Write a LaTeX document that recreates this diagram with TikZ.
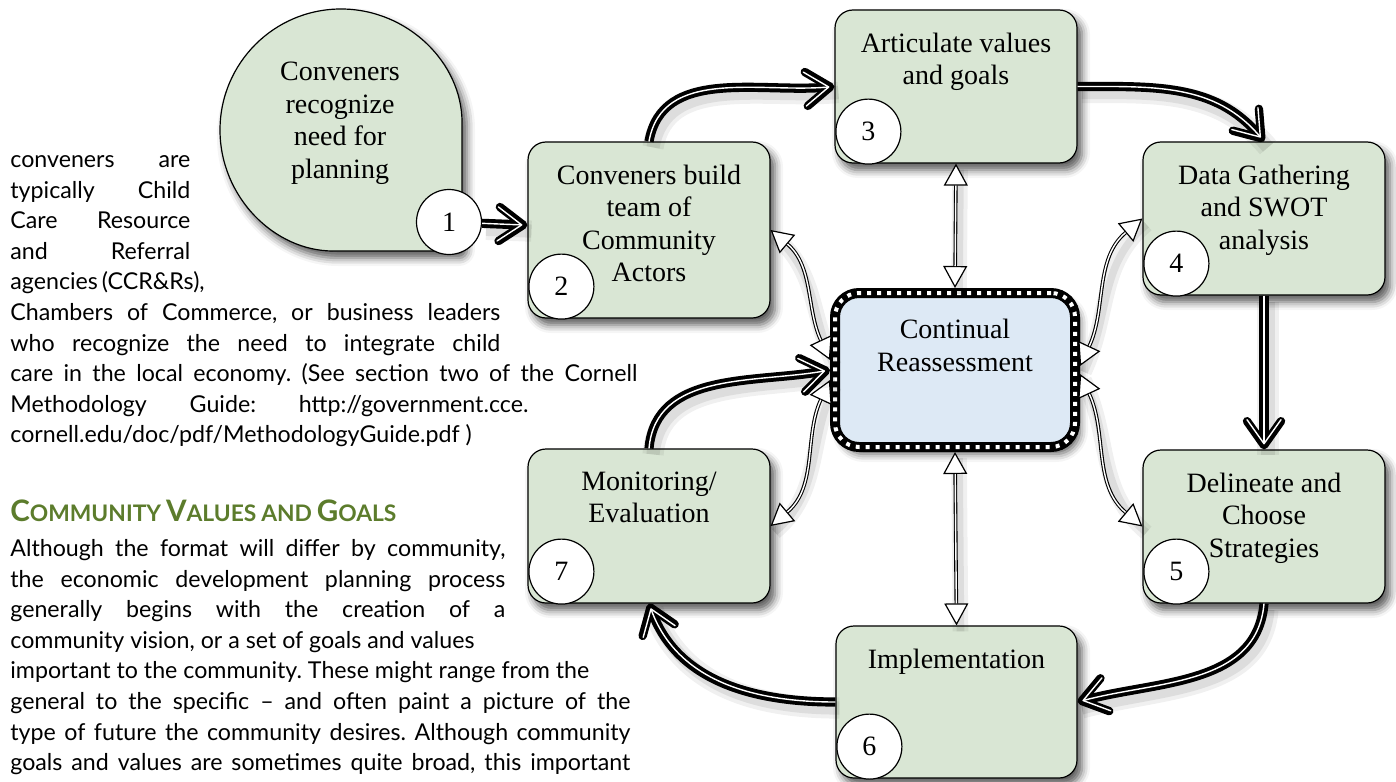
\documentclass[tikz,border=0pt]{standalone}
\usepackage{fontspec}
\setmainfont{Liberation Serif}
\newfontfamily\bodyfont{Lato}
\usetikzlibrary{arrows.meta,calc,shadows.blur}

\definecolor{boxgreen}{RGB}{217,230,212}
\definecolor{boxblue}{RGB}{221,233,245}
\definecolor{headgreen}{RGB}{92,124,44}

\newcommand{\hsc}[2]{{\fontsize{14.8}{15}\selectfont #1}{\fontsize{11.4}{12}\selectfont #2}}

\tikzset{
  softshadow/.style={blur shadow={shadow xshift=2.5pt, shadow yshift=-3.5pt, shadow blur radius=4pt, shadow opacity=65}},
  stepbox/.style={draw=black, line width=0.6pt, fill=boxgreen, rounded corners=9pt,
    minimum width=121pt, minimum height=76.5pt, inner sep=0pt, softshadow},
  centrebox/.style={draw=black, line width=5pt, fill=boxblue, rounded corners=12pt,
    minimum width=120pt, minimum height=77pt, inner sep=0pt, outer sep=2.5pt, softshadow,
    postaction={draw=white, fill=none, line width=2pt, dash pattern=on 2pt off 3pt}},
  numcircle/.style={circle, draw=black, line width=0.6pt, fill=white, minimum size=32.5pt,
    inner sep=0pt, font=\fontsize{14}{16}\selectfont},
  boxtext/.style={anchor=north, align=center, inner sep=0pt, font=\fontsize{14}{16.2}\selectfont},
  lineshadow/.style={preaction={draw=black, opacity=0.06, line width=#1+6pt, -,
      transform canvas={xshift=2pt,yshift=-3pt}},
    preaction={draw=black, opacity=0.08, line width=#1+2pt, -,
      transform canvas={xshift=2pt,yshift=-3pt}}},
  flow/.style={lineshadow=4.6pt, draw=black, line width=4.6pt,
    -{Straight Barb[length=12pt,width=17pt,line width=4.2pt,round]},
    postaction={draw=white, line width=0.7pt, shorten >=2.5pt,
      -{Straight Barb[length=12pt,width=17pt,line width=0.7pt,round]}}},
  link/.style={lineshadow=1.8pt, draw=black, line width=1.8pt,
    {Triangle[length=11pt,width=12pt,line width=0.6pt,fill=white]}-{Triangle[length=11pt,width=12pt,line width=0.6pt,fill=white]},
    postaction={draw=white, line width=0.7pt, -, shorten >=11pt, shorten <=11pt}},
  bodytext/.style={anchor=north west, align=left, inner sep=0pt,
    font=\bodyfont\fontsize{11.6}{15.3}\selectfont\frenchspacing},
}

\begin{document}
\begin{tikzpicture}[x=0.5pt,y=-0.5pt]
\useasboundingbox (0,0) rectangle (1396,781);

% left text
\node[bodytext] (p1) at (10,146) {\rule{0pt}{10.5pt}\makebox[90pt][s]{conveners are}\\
\makebox[90pt][s]{typically Child}\\
\makebox[90pt][s]{Care Resource}\\
\makebox[90pt][s]{and Referral}\\
\makebox[90pt][s]{agencies (CCR\&Rs),}\\
\makebox[245pt][s]{Chambers of Commerce, or business leaders}\\
\makebox[245pt][s]{who recognize the need to integrate child}\\
\makebox[313.5pt][s]{care in the local economy. (See section two of the Cornell}\\
\makebox[259pt][s]{Methodology Guide: http://government.cce.}\\
cornell.edu/doc/pdf/MethodologyGuide.pdf )};

\node[anchor=base west, inner sep=0pt, text=headgreen, font=\bodyfont\bfseries] (h) at (10,521)
 {\hsc{C}{OMMUNITY} \hsc{V}{ALUES} {\fontsize{11.4}{12}\selectfont AND} \hsc{G}{OALS}};

\node[bodytext] (p2) at (10,535) {\rule{0pt}{10.5pt}\makebox[247.5pt][s]{Although the format will differ by community,}\\
\makebox[247.5pt][s]{the economic development planning process}\\
\makebox[247.5pt][s]{generally begins with the creation of a}\\
community vision, or a set of goals and values\\
important to the community. These might range from the\\
\makebox[310pt][s]{general to the specific – and often paint a picture of the}\\
\makebox[310pt][s]{type of future the community desires. Although community}\\
\makebox[310pt][s]{goals and values are sometimes quite broad, this important}};

% bubble (step 1)
\path[fill=boxgreen, draw=black, line width=0.6pt, rounded corners=4pt, softshadow]
  (462,130) arc[start angle=0, end angle=-270, radius=121] -- (462,251) -- cycle;
\node[boxtext] (n1) at (340,62) {Conveners\\recognize\\need for\\planning};
\node[numcircle] (c1) at (449,222) {1};

% boxes
\node[stepbox, minimum height=88pt] (b2) at (649,230) {};
\node[stepbox] (b3) at (956,86.5) {};
\node[stepbox] (b4) at (1264,218.5) {};
\node[stepbox] (b5) at (1264,526.5) {};
\node[stepbox, minimum width=120.5pt, minimum height=76pt] (b6) at (956.5,702) {};
\node[stepbox, minimum height=77pt] (b7) at (649,526) {};
\node[centrebox] (c) at (955,370) {};

\node[boxtext] (t2) at ($(b2.north)+(0,23)$) {Conveners build\\team of\\Community\\Actors};
\node[boxtext] (t3) at ($(b3.north)+(0,23)$) {Articulate values\\and goals};
\node[boxtext] (t4) at ($(b4.north)+(0,23)$) {Data Gathering\\and SWOT\\analysis};
\node[boxtext] (t5) at ($(b5.north)+(0,23)$) {Delineate and\\Choose\\Strategies};
\node[boxtext] (t6) at ($(b6.north)+(0,23)$) {Implementation};
\node[boxtext] (t7) at ($(b7.north)+(0,23)$) {Monitoring/\\Evaluation};
\node[boxtext] (tc) at ($(c.north)+(0,31)$) {Continual\\Reassessment};

\node[numcircle] (c2) at ($(b2.south west)+(34,-32)$) {2};
\node[numcircle] (c3) at ($(b3.south west)+(34,-32)$) {3};
\node[numcircle] (c4) at ($(b4.south west)+(34,-32)$) {4};
\node[numcircle] (c5) at ($(b5.south west)+(34,-32)$) {5};
\node[numcircle] (c6) at ($(b6.south west)+(34,-32)$) {6};
\node[numcircle] (c7) at ($(b7.south west)+(34,-32)$) {7};

% thin two-way links to the centre
\draw[link] (b3.south) -- (c.north);
\draw[link] (c.south) -- (b6.north);
\draw[link] (b2.east) to[out=-40,in=115] ([yshift=5pt]c.west);
\draw[link] (b7.east) to[out=40,in=245] ([yshift=-5pt]c.west);
\draw[link] (b4.west) to[out=220,in=65] ([yshift=2pt]c.east);
\draw[link] (b5.west) to[out=140,in=-65] ([yshift=-2pt]c.east);

% main flow
\draw[flow] (c1) -- (b2);
\draw[flow] (b2.north) to[out=80,in=185] (b3.west);
\draw[flow] (b3.east) to[out=0,in=130] (b4.north);
\draw[flow] (b4.south) -- (b5.north);
\draw[flow] (b5.south) to[out=265,in=15] (b6.east);
\draw[flow] (b6.west) to[out=180,in=290] (b7.south);
\draw[flow] (b7.north) to[out=85,in=190] (c.west);
\end{tikzpicture}
\end{document}
